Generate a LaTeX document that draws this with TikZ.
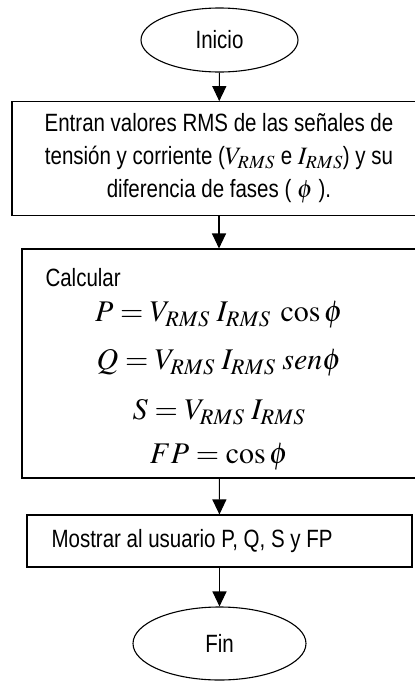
\documentclass[tikz,border=0pt]{standalone}
\usepackage{amsmath}
\usepackage{mathptmx}
\usepackage[no-math]{fontspec}
\setmainfont{Liberation Sans}[FakeStretch=0.82]
\usepackage{tikz}
\usetikzlibrary{arrows.meta,shapes.geometric}

\tikzset{
	terminal/.style={draw, line width=1.1pt, ellipse, inner sep=0pt},
	proceso/.style={draw, line width=1.1pt, rectangle, inner sep=0pt},
	ecuacion/.style={font=\fontsize{30}{32}\selectfont},
	flecha/.style={line width=1.1pt, -{Triangle[length=15pt, width=14pt]}},
}

\begin{document}
\begin{tikzpicture}[x=1pt, y=-1pt, font=\fontsize{25}{33}\selectfont]
		\useasboundingbox (0,0) rectangle (415,681);
		% blocks of the flow chart
		\node[terminal, minimum width=157, minimum height=64] (inicio) at (219.5,40) {Inicio};
		\node[proceso, minimum width=414, minimum height=114, align=center] (entrada) at (219,158.7)
			{Entran valores RMS de las señales de\\
			tensión y corriente ($V_{RMS}$ e $I_{RMS}$) y su\\
			diferencia de fases ( $\phi$ ).};
		\node[proceso, minimum width=394, minimum height=229] (calculo) at (219,363.5) {};
		\node[anchor=west] (calcular) at (42,278) {Calcular};
		% equations, spaced as an equation editor sets them
		\node[ecuacion] (eqP) at (219,315) {$P = V_{RMS}\;I_{RMS}\;\cos\phi$};
		\node[ecuacion] (eqQ) at (219,363) {$Q = V_{RMS}\;I_{RMS}\;sen\phi$};
		\node[ecuacion] (eqS) at (219,412) {$S = V_{RMS}\;I_{RMS}$};
		\node[ecuacion] (eqFP) at (219,457) {$FP = \cos\phi$};
		\node[proceso, minimum width=385, minimum height=52] (mostrar) at (219.5,541) {};
		\node[anchor=west] (mostrartxt) at (48,541) {Mostrar al usuario P, Q, S y FP};
		\node[terminal, minimum width=173, minimum height=73] (fin) at (219.5,643.5) {Fin};
		% connectors
		\draw[flecha] (inicio) -- (entrada);
		\draw[flecha] (entrada) -- (calculo);
		\draw[flecha] (calculo) -- (mostrar);
		\draw[flecha] (mostrar) -- (fin);
	\end{tikzpicture}
\end{document}
